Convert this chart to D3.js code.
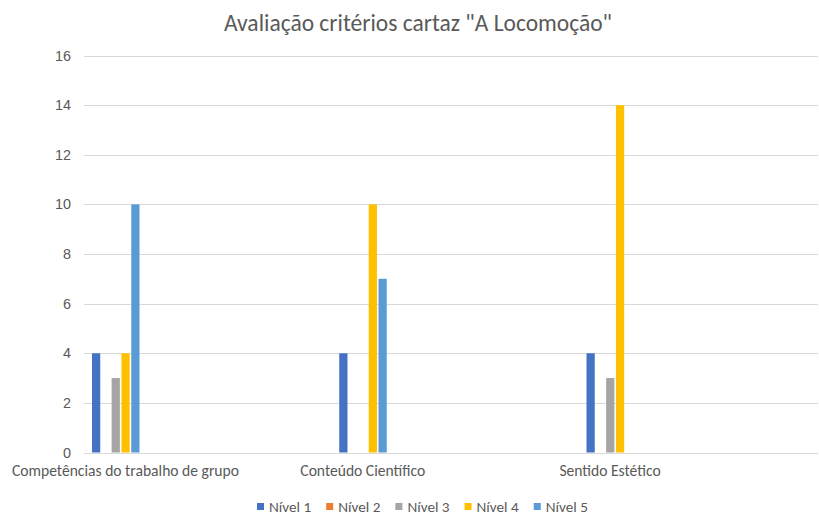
<!DOCTYPE html>
<html>
<head>
<meta charset="utf-8">
<script src="https://cdn.jsdelivr.net/npm/d3@7"></script>
<style>
  html, body { margin: 0; padding: 0; background: #fff; }
  svg { display: block; font-family: Carlito, "Liberation Sans", "Open Sans", sans-serif; }
</style>
</head>
<body>
<svg id="chart" width="819" height="518"></svg>
<script>
// Avaliação do cartaz: número de respostas por nível em cada critério
const categories = ["Competências do trabalho de grupo", "Conteúdo Científico", "Sentido Estético"];
const seriesNames = ["Nível 1", "Nível 2", "Nível 3", "Nível 4", "Nível 5"];
const nivel1 = [4, 4, 4];
const nivel2 = [0, 0, 0];
const nivel3 = [3, 0, 3];
const nivel4 = [4, 10, 14];
const nivel5 = [10, 7, 0];
const yTicks = [0, 2, 4, 6, 8, 10, 12, 14, 16];
const colors = ["#4472C4", "#ED7D31", "#A5A5A5", "#FFC000", "#5B9BD5"];
const titleText = "Avaliação critérios cartaz \"A Locomoção\"";

const seriesValues = [nivel1, nivel2, nivel3, nivel4, nivel5];

const svg = d3.select("#chart");
const plot = { left: 84, right: 818, top: 55.5, bottom: 452.5 };

// Scales
const y = d3.scaleLinear().domain([0, 16]).range([plot.bottom, plot.top]);
const x0 = d3.scalePoint().domain(categories).range([115.5, 610]);
const x1 = d3.scaleBand().domain(seriesNames).range([-23.5, 24]).paddingInner(0.16);
const color = d3.scaleOrdinal().domain(seriesNames).range(colors);

// Title
svg.append("text")
  .attr("x", 418).attr("y", 31)
  .attr("text-anchor", "middle")
  .attr("font-size", 23.5)
  .attr("font-weight", 300)
  .attr("fill", "#595959")
  .text(titleText);

// Gridlines
svg.append("g")
  .selectAll("line")
  .data(yTicks)
  .join("line")
  .attr("x1", plot.left).attr("x2", plot.right)
  .attr("y1", d => Math.round(y(d)) + 0.5).attr("y2", d => Math.round(y(d)) + 0.5)
  .attr("stroke", "#D9D9D9").attr("stroke-width", 1);

// Y axis labels
const yAxis = d3.axisLeft(y).tickValues(yTicks).tickSize(0).tickPadding(0);
const gy = svg.append("g").attr("transform", `translate(71,0)`).call(yAxis);
gy.select(".domain").remove();
gy.selectAll("text")
  .attr("font-size", 14.4)
  .attr("fill", "#595959")
  .attr("font-family", null);

// Bars
const bars = svg.append("g");
categories.forEach((cat, ci) => {
  seriesNames.forEach((s, si) => {
    const v = seriesValues[si][ci];
    if (v <= 0) return;
    bars.append("rect")
      .attr("x", x0(cat) + x1(s))
      .attr("y", y(v))
      .attr("width", x1.bandwidth())
      .attr("height", y(0) - y(v))
      .attr("fill", color(s));
  });
});

// Category labels
const gx = svg.append("g");
categories.forEach(cat => {
  const t = gx.append("text")
    .attr("x", x0(cat)).attr("y", 476)
    .attr("text-anchor", "middle")
    .attr("font-size", 15.6)
    .attr("fill", "#595959")
    .text(cat);
  const w = t.node().getComputedTextLength();
  if (x0(cat) - w / 2 < 12) {
    t.attr("text-anchor", "start").attr("x", 12);
  }
});

// Legend
const legend = svg.append("g");
let lx = 257;
seriesNames.forEach(s => {
  legend.append("rect")
    .attr("x", lx).attr("y", 503)
    .attr("width", 7).attr("height", 7)
    .attr("fill", color(s));
  const t = legend.append("text")
    .attr("x", lx + 12).attr("y", 512)
    .attr("font-size", 15.2)
    .attr("fill", "#595959")
    .text(s);
  lx += 12 + t.node().getComputedTextLength() + 15;
});
</script>
</body>
</html>
